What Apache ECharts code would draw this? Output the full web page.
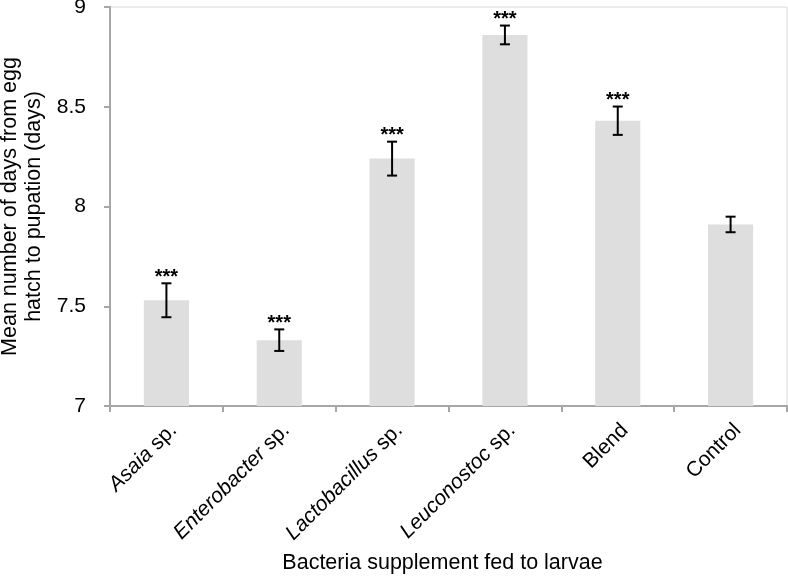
<!DOCTYPE html>
<html><head><meta charset="utf-8">
<script src="https://cdn.jsdelivr.net/npm/echarts@6/dist/echarts.min.js"></script>
<style>html,body{margin:0;padding:0;background:#fff}#c{width:788px;height:576px}</style>
</head><body><div id="c"></div>
<script>
var genus = ['Asaia', 'Enterobacter', 'Lactobacillus', 'Leuconostoc', 'Blend', 'Control'];
var suffix = [' sp.', ' sp.', ' sp.', ' sp.', '', ''];
var italic = [true, true, true, true, false, false];
var means = [7.53, 7.33, 8.24, 8.86, 8.43, 7.91];
var errors = [0.085, 0.054, 0.085, 0.047, 0.071, 0.039];
var signif = ['***', '***', '***', '***', '***', ''];
var yTicks = [7, 7.5, 8, 8.5, 9];

var categories = genus.map(function (g, i) { return g + suffix[i]; });
var errData = means.map(function (m, i) { return [i, m, errors[i], signif[i]]; });

var FONT = 'Liberation Sans, Arial, Helvetica, sans-serif';
var chart = echarts.init(document.getElementById('c'), null, {renderer: 'canvas'});
chart.setOption({
  animation: false,
  textStyle: {fontFamily: FONT},
  grid: {left: 110, right: 1, top: 7, bottom: 170, show: true, borderColor: '#d9d9d9', borderWidth: 1,
         containLabel: false, outerBoundsMode: 'none'},
  xAxis: {
    type: 'category',
    data: categories,
    name: 'Bacteria supplement fed to larvae',
    nameLocation: 'middle',
    nameGap: 146,
    nameTextStyle: {fontSize: 21.5, color: '#000', fontFamily: FONT, padding: [0, 12, 0, 0]},
    axisLine: {lineStyle: {color: '#a6a6a6', width: 2}},
    axisTick: {show: true, alignWithLabel: false, length: 6, lineStyle: {color: '#a6a6a6', width: 2}},
    axisLabel: {
      interval: 0, rotate: 45, margin: 14, color: '#000', fontSize: 21, fontFamily: FONT,
      padding: [20, 0, 0, 0],
      formatter: function (v, i) {
        return italic[i] ? '{i|' + genus[i] + '}{n|' + suffix[i] + '}' : '{n|' + genus[i] + suffix[i] + '}';
      },
      rich: {
        i: {fontStyle: 'italic', fontSize: 21, color: '#000', fontFamily: FONT},
        n: {fontSize: 21, color: '#000', fontFamily: FONT}
      }
    }
  },
  yAxis: {
    type: 'value', min: yTicks[0], max: yTicks[yTicks.length - 1], interval: 0.5,
    name: 'Mean number of days from egg\nhatch to pupation (days)',
    nameLocation: 'middle', nameRotate: 90, nameGap: 63,
    nameTextStyle: {fontSize: 21.5, color: '#000', lineHeight: 24, fontFamily: FONT},
    splitLine: {show: false},
    axisLine: {show: true, lineStyle: {color: '#a6a6a6', width: 2}},
    axisTick: {show: true, length: 6, lineStyle: {color: '#a6a6a6', width: 2}},
    axisLabel: {color: '#000', fontSize: 21, margin: 24, fontFamily: FONT,
      formatter: function (v) { return String(v); }}
  },
  series: [
    {type: 'bar', data: means, barWidth: '40%', itemStyle: {color: '#dedede'}, z: 1},
    {
      type: 'custom', data: errData, z: 5,
      renderItem: function (params, api) {
        var x = api.value(0), m = api.value(1), e = api.value(2);
        var s = errData[params.dataIndex][3];
        var top = api.coord([x, m + e]);
        var bot = api.coord([x, m - e]);
        var hw = 5;
        var style = {stroke: '#000', lineWidth: 2};
        var children = [
          {type: 'line', shape: {x1: top[0], y1: top[1], x2: bot[0], y2: bot[1]}, style: style},
          {type: 'line', shape: {x1: top[0] - hw, y1: top[1], x2: top[0] + hw, y2: top[1]}, style: style},
          {type: 'line', shape: {x1: bot[0] - hw, y1: bot[1], x2: bot[0] + hw, y2: bot[1]}, style: style}
        ];
        if (s) {
          children.push({type: 'text', style: {text: s, x: top[0], y: top[1] + 4, align: 'center', verticalAlign: 'bottom',
            fontSize: 20, fontWeight: 'bold', fill: '#000', fontFamily: FONT}});
        }
        return {type: 'group', children: children};
      }
    }
  ]
});
</script></body></html>
